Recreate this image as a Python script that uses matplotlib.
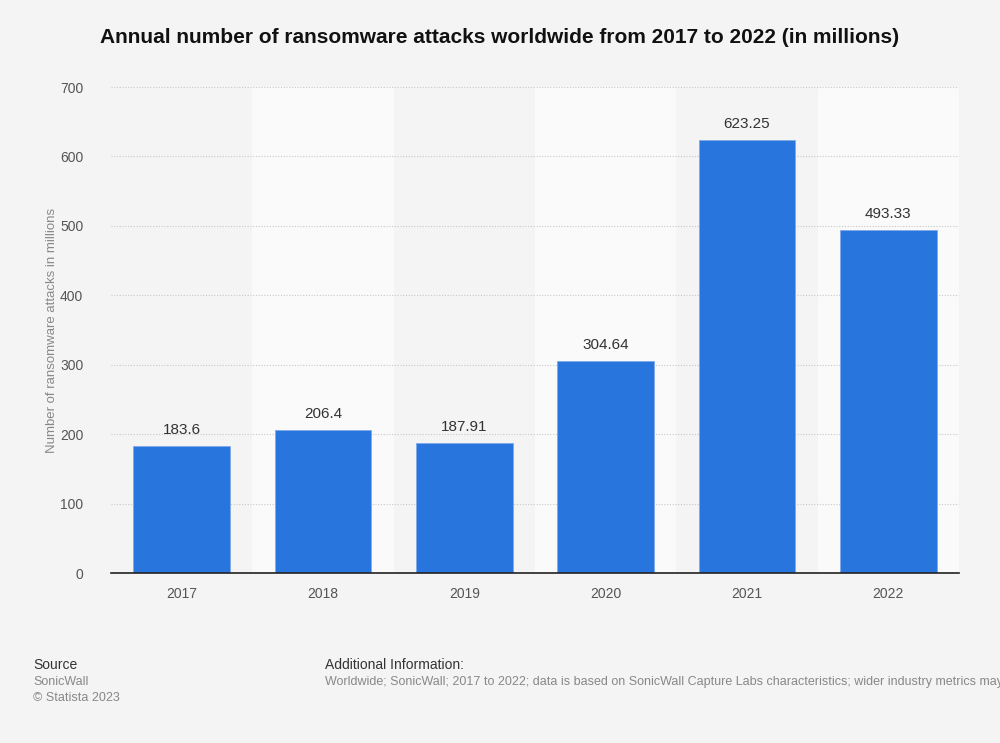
import matplotlib
matplotlib.use("Agg")
import matplotlib.pyplot as plt

plt.rcParams['font.family'] = ['Liberation Sans', 'DejaVu Sans']

years = ['2017', '2018', '2019', '2020', '2021', '2022']
attacks = [183.6, 206.4, 187.91, 304.64, 623.25, 493.33]
labels = ['183.6', '206.4', '187.91', '304.64', '623.25', '493.33']
yticks = [0, 100, 200, 300, 400, 500, 600, 700]

bg = '#f4f4f4'
fig = plt.figure(figsize=(10, 7.43), dpi=100, facecolor=bg)
ax = fig.add_axes([0.111, 0.2288, 0.848, 0.6541])
ax.set_facecolor(bg)

x = list(range(len(years)))
# alternating column shading
for i in x:
    if i % 2 == 1:
        ax.axvspan(i - 0.5, i + 0.5, color='#fafafa', zorder=0, lw=0)

ax.set_axisbelow(True)
ax.grid(axis='y', color='#c8c8c8', linestyle=(0, (1, 1.5)), linewidth=0.8)
bars = ax.bar(x, attacks, width=0.685, color='#2875dd', edgecolor='#7fa9ea',
              linewidth=0.6, zorder=2)

for xi, v, t in zip(x, attacks, labels):
    ax.text(xi, v + 13, t, ha='center', va='bottom', fontsize=11, color='#333333')

ax.set_xlim(-0.5, len(years) - 0.5)
ax.set_ylim(0, 700)
ax.set_yticks(yticks)
ax.set_xticks(x)
ax.set_xticklabels(years)
ax.tick_params(axis='both', length=0, labelsize=10, colors='#555555')
ax.tick_params(axis='y', pad=20)
ax.tick_params(axis='x', pad=10)
for s in ['top', 'right', 'left']:
    ax.spines[s].set_visible(False)
ax.spines['bottom'].set_color('#222222')
ax.spines['bottom'].set_linewidth(1.2)
ax.set_ylabel('Number of ransomware attacks in millions', fontsize=9.5,
              color='#888888', labelpad=1)

fig.text(0.5, 0.950, 'Annual number of ransomware attacks worldwide from 2017 to 2022 (in millions)',
         ha='center', va='center', fontsize=15, fontweight='bold', color='#111111')

fig.text(0.033, 0.105, 'Source', fontsize=10, color='#333333', va='center')
fig.text(0.033, 0.082, 'SonicWall', fontsize=9, color='#888888', va='center')
fig.text(0.033, 0.060, '\u00a9 Statista 2023', fontsize=9, color='#888888', va='center')
fig.text(0.325, 0.105, 'Additional Information:', fontsize=10, color='#333333', va='center')
fig.text(0.325, 0.082, 'Worldwide; SonicWall; 2017 to 2022; data is based on SonicWall Capture Labs '
         'characteristics; wider industry metrics may vary', fontsize=9, color='#888888', va='center')

fig.savefig('out.png', dpi=100, facecolor=bg)
